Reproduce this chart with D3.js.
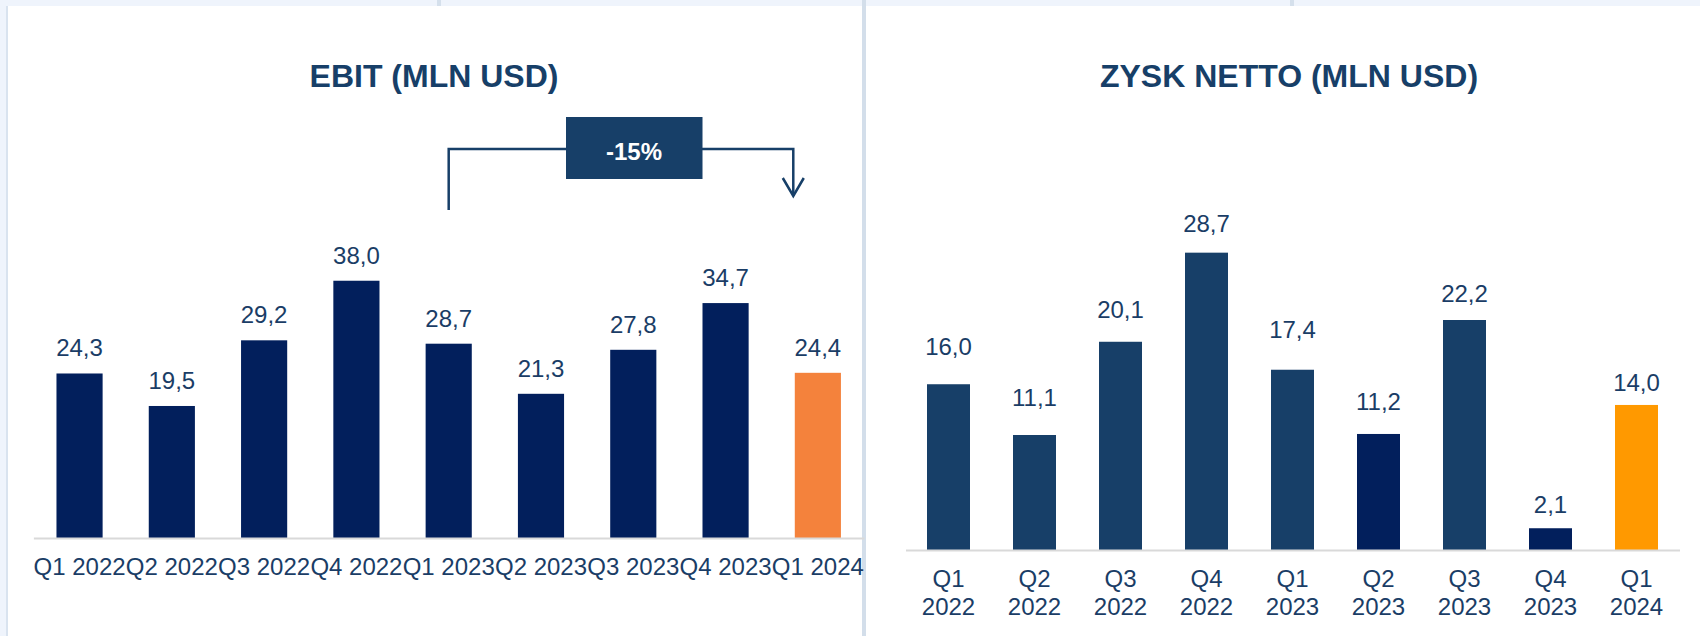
<!DOCTYPE html>
<html>
<head>
<meta charset="utf-8">
<script src="https://cdn.jsdelivr.net/npm/d3@7"></script>
<style>
  html, body { margin: 0; padding: 0; background: #fff; }
  svg { display: block; font-family: "Liberation Sans", Arial, sans-serif; }
</style>
</head>
<body>
<svg id="chart" width="1700" height="636"></svg>
<script>
/* ── DANE ─────────────────────────────────────── */
const KWARTALY   = ["Q1 2022", "Q2 2022", "Q3 2022", "Q4 2022", "Q1 2023",
                    "Q2 2023", "Q3 2023", "Q4 2023", "Q1 2024"];
const EBIT       = [24.3, 19.5, 29.2, 38.0, 28.7, 21.3, 27.8, 34.7, 24.4];
const ZYSK_NETTO = [16.0, 11.1, 20.1, 28.7, 17.4, 11.2, 22.2, 2.1, 14.0];
const ZMIANA_EBIT = "-15%";

/* ── STYL ─────────────────────────────────────── */
const TEXT      = "#1A3D66";
const NAVY      = "#021F5C";
const SLATE     = "#173F68";
const ORANGE_L  = "#F4823C";
const ORANGE_R  = "#FF9900";
const CIEMNE_R  = [5, 7];                       // ciemniejsze słupki w prawym wykresie
const PODNIES_R = [29, 29, 24, 21, 32, 24, 18, 15, 14]; // ręczne przesunięcia etykiet (slajd)

const svg = d3.select("#chart");
const fmt = v => d3.format(".1f")(v).replace(".", ",");

/* ── TŁO / RAMKI ──────────────────────────────── */
svg.append("rect").attr("x", 0).attr("y", 0).attr("width", 1700).attr("height", 6).attr("fill", "#EFF4FC");
svg.append("rect").attr("x", 0).attr("y", 0).attr("width", 6).attr("height", 636).attr("fill", "#EFF4FC");
svg.append("rect").attr("x", 6).attr("y", 6).attr("width", 2).attr("height", 630).attr("fill", "#D9E3EF");
svg.append("rect").attr("x", 862).attr("y", 0).attr("width", 4).attr("height", 636).attr("fill", "#D3DEEA");
[437, 1290].forEach(x =>
  svg.append("rect").attr("x", x).attr("y", 0).attr("width", 4).attr("height", 6).attr("fill", "#D5E0EC"));

/* ── LEWY: EBIT ───────────────────────────────── */
const xL = d3.scaleBand().domain(KWARTALY).range([33.4, 864]).paddingInner(0.5).paddingOuter(0.25);
const yL = d3.scaleLinear().domain([0, 40]).range([538, 538 - 40 * 6.77]);

svg.append("text")
  .attr("x", 434).attr("y", 87)
  .attr("text-anchor", "middle")
  .attr("font-size", 32).attr("font-weight", "bold")
  .attr("fill", SLATE)
  .text("EBIT (MLN USD)");

const gL = svg.append("g");
gL.selectAll("rect.bar")
  .data(EBIT)
  .join("rect")
  .attr("class", "bar")
  .attr("x", (d, i) => xL(KWARTALY[i]))
  .attr("width", xL.bandwidth())
  .attr("y", d => yL(d))
  .attr("height", d => yL(0) - yL(d))
  .attr("fill", (d, i) => i === EBIT.length - 1 ? ORANGE_L : NAVY);

gL.selectAll("text.val")
  .data(EBIT)
  .join("text")
  .attr("class", "val")
  .attr("x", (d, i) => xL(KWARTALY[i]) + xL.bandwidth() / 2)
  .attr("y", d => yL(d) - 17)
  .attr("text-anchor", "middle")
  .attr("font-size", 24)
  .attr("fill", TEXT)
  .text(fmt);

const axL = svg.append("g")
  .attr("transform", `translate(0,${yL(0)})`)
  .call(d3.axisBottom(xL).tickSize(0).tickSizeOuter(0));
axL.select(".domain").attr("stroke", "#D9D9D9").attr("stroke-width", 2);
axL.selectAll(".tick text")
  .attr("y", 37).attr("dy", 0)
  .attr("font-size", 24)
  .attr("font-family", "Liberation Sans, Arial, sans-serif")
  .attr("fill", TEXT);

// adnotacja zmiany r/r
const xa = xL(KWARTALY[4]) + xL.bandwidth() / 2;
const xb = xL(KWARTALY[8]) - 1.5;
const gA = svg.append("g").attr("fill", "none").attr("stroke", SLATE).attr("stroke-width", 2.5);
gA.append("path").attr("d", `M${xa},210 V149 H${xb} V196`);
gA.append("path").attr("d", `M${xb - 10.5},178 L${xb},196 L${xb + 10.5},178`);
svg.append("rect")
  .attr("x", 566).attr("y", 117).attr("width", 136.5).attr("height", 62)
  .attr("fill", SLATE);
svg.append("text")
  .attr("x", 634).attr("y", 159.5)
  .attr("text-anchor", "middle")
  .attr("font-size", 24).attr("font-weight", "bold")
  .attr("fill", "#fff")
  .text(ZMIANA_EBIT);

/* ── PRAWY: ZYSK NETTO ────────────────────────── */
const xR = d3.scaleBand().domain(KWARTALY).range([905.5, 1679.5]).paddingInner(0.5).paddingOuter(0.25);
const yR = d3.scaleLinear().domain([0, 30]).range([550, 550 - 30 * 10.36]);

svg.append("text")
  .attr("x", 1289).attr("y", 87)
  .attr("text-anchor", "middle")
  .attr("font-size", 32).attr("font-weight", "bold")
  .attr("fill", SLATE)
  .text("ZYSK NETTO (MLN USD)");

const gR = svg.append("g");
gR.selectAll("rect.bar")
  .data(ZYSK_NETTO)
  .join("rect")
  .attr("class", "bar")
  .attr("x", (d, i) => xR(KWARTALY[i]))
  .attr("width", xR.bandwidth())
  .attr("y", d => yR(d))
  .attr("height", d => yR(0) - yR(d))
  .attr("fill", (d, i) => i === ZYSK_NETTO.length - 1 ? ORANGE_R : (CIEMNE_R.includes(i) ? NAVY : SLATE));

gR.selectAll("text.val")
  .data(ZYSK_NETTO)
  .join("text")
  .attr("class", "val")
  .attr("x", (d, i) => xR(KWARTALY[i]) + xR.bandwidth() / 2)
  .attr("y", (d, i) => yR(d) - PODNIES_R[i])
  .attr("text-anchor", "middle")
  .attr("font-size", 24)
  .attr("fill", TEXT)
  .text(fmt);

const axR = svg.append("g")
  .attr("transform", `translate(0,${yR(0)})`)
  .call(d3.axisBottom(xR).tickSize(0).tickSizeOuter(0));
axR.select(".domain").attr("stroke", "#D9D9D9").attr("stroke-width", 2);
axR.selectAll(".tick text")
  .attr("y", 0).attr("dy", 0)
  .attr("font-size", 24)
  .attr("font-family", "Liberation Sans, Arial, sans-serif")
  .attr("fill", TEXT)
  .each(function(d) {
    const t = d3.select(this).text("");
    d.split(" ").forEach((part, k) =>
      t.append("tspan").attr("x", 0).attr("y", 37 + k * 28.3).text(part));
  });
</script>
</body>
</html>
